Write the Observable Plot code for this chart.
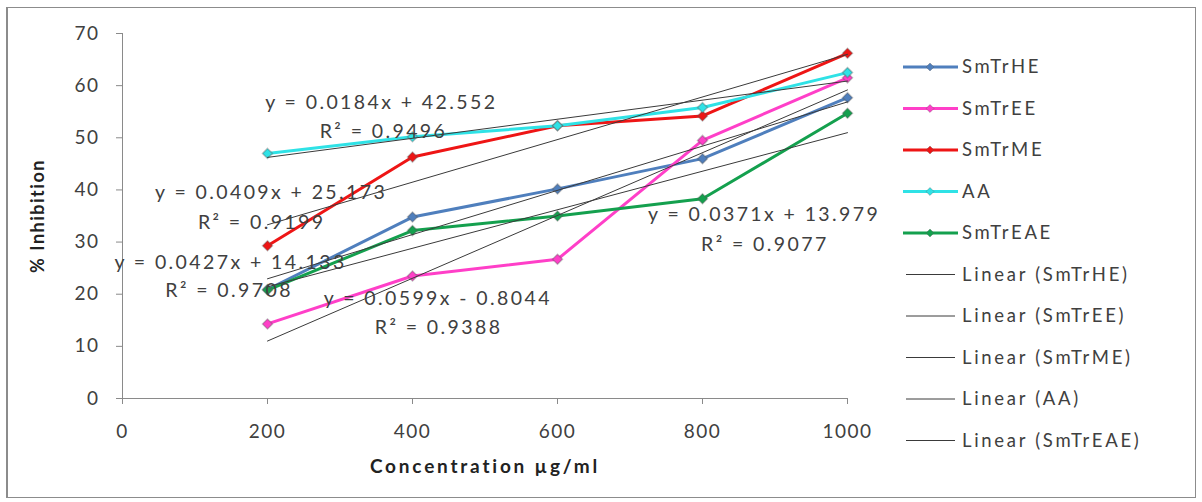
<!DOCTYPE html>
<html><head><meta charset="utf-8">
<script src="https://cdn.jsdelivr.net/npm/d3@7"></script>
<script src="https://cdn.jsdelivr.net/npm/@observablehq/plot@0.6"></script>
<style>
body{margin:0;background:#fff;}
#wrap{position:relative;width:1202px;height:502px;overflow:hidden;font-family:Lato, sans-serif;}
#frame{position:absolute;left:6px;top:7px;width:1190px;height:491px;border:1px solid #8c8c8c;border-left:2px solid #8c8c8c;box-sizing:border-box;}
#chart{position:absolute;left:0;top:0;}
#legend{position:absolute;left:0;top:0;}
</style></head><body>
<div id="wrap"><div id="frame"></div><div id="chart"></div><svg id="legend" width="1202" height="502"></svg></div>
<script>
const concentrations = [200, 400, 600, 800, 1000];
const seriesNames = ["SmTrHE", "SmTrEE", "SmTrME", "AA", "SmTrEAE"];
const smTrHE  = [20.9, 34.8, 40.2, 46.0, 57.7];
const smTrEE  = [14.3, 23.5, 26.7, 49.5, 61.5];
const smTrME  = [29.3, 46.3, 52.3, 54.2, 66.2];
const aa      = [47.0, 50.2, 52.3, 55.8, 62.5];
const smTrEAE = [20.8, 32.2, 35.0, 38.3, 54.7];
const seriesColors = ["#4f7fbd", "#ff3fc8", "#ee1515", "#2fe2e6", "#14a04e"];
const xTicks = [0, 200, 400, 600, 800, 1000];
const yTicks = [0, 10, 20, 30, 40, 50, 60, 70];
const trendLegend = ["Linear (SmTrHE)", "Linear (SmTrEE)", "Linear (SmTrME)", "Linear (AA)", "Linear (SmTrEAE)"];
const equationTexts = ["y = 0.0184x + 42.552", "y = 0.0409x + 25.173", "y = 0.0427x + 14.133", "y = 0.0599x - 0.8044", "y = 0.0371x + 13.979"];
const rSquaredTexts = ["R² = 0.9496", "R² = 0.9199", "R² = 0.9708", "R² = 0.9388", "R² = 0.9077"];
const xTitle = "Concentration µg/ml";
const yTitle = "% Inhibition";
// annotation anchors in data units (concentration, % inhibition)
const eqAnchorX = [357, 205, 149, 435, 885];
const eqAnchorY = [56.8, 39.5, 26.0, 19.1, 35.2];
const r2AnchorX = [360, 192, 147, 436, 886];
const r2AnchorY = [51.1, 33.8, 20.7, 13.6, 29.5];

const seriesValues = [smTrHE, smTrEE, smTrME, aa, smTrEAE];
const rows = seriesValues.flatMap((vals, i) => vals.map((v, j) => ({series: seriesNames[i], x: concentrations[j], y: v})));
const annotations = [
  ...equationTexts.map((t, i) => ({text: t, x: eqAnchorX[i], y: eqAnchorY[i]})),
  ...rSquaredTexts.map((t, i) => ({text: t, x: r2AnchorX[i], y: r2AnchorY[i]}))
];

const chart = Plot.plot({
  width: 1202, height: 502,
  marginLeft: 122, marginRight: 355, marginTop: 33, marginBottom: 104,
  x: {domain: [0, 1000]},
  y: {domain: [0, 70]},
  color: {domain: seriesNames, range: seriesColors},
  style: {fontFamily: "Lato, sans-serif", fontSize: "19px", color: "#404040", background: "transparent", letterSpacing: "1.5px"},
  marks: [
    Plot.ruleX([0], {stroke: "#8a8a8a", strokeWidth: 1}),
    Plot.ruleY([0], {stroke: "#8a8a8a", strokeWidth: 1}),
    Plot.axisX({ticks: xTicks, tickFormat: d => String(d), tickSize: 6, tickPadding: 20, label: null, stroke: "#8a8a8a", fill: "#404040"}),
    Plot.axisY({ticks: yTicks, tickFormat: d => String(d), tickSize: 6, tickPadding: 17, label: null, stroke: "#8a8a8a", fill: "#404040"}),
    Plot.line(rows, {x: "x", y: "y", z: "series", stroke: "series", strokeWidth: 3}),
    Plot.dot(rows, {x: "x", y: "y", fill: "series", symbol: "diamond2", r: 4.5, stroke: "#555", strokeOpacity: 0.35}),
    Plot.linearRegressionY(rows, {x: "x", y: "y", z: "series", stroke: "#3a3a3a", strokeWidth: 1, ci: 0}),
    Plot.text(annotations, {x: "x", y: "y", text: "text", fill: "#404040", fontSize: 19.5, lineAnchor: "middle"}),
    Plot.text([yTitle], {frameAnchor: "left", rotate: -90, dx: -84, textAnchor: "middle", lineAnchor: "middle", fontWeight: "bold", fill: "#222", fontSize: 18}),
    Plot.text([xTitle], {frameAnchor: "bottom", dy: 68, textAnchor: "middle", lineAnchor: "middle", fontWeight: "bold", fill: "#222", fontSize: 19})
  ]
});
document.getElementById("chart").appendChild(chart);

// widen letter spacing of the annotation and title texts
d3.select(chart).selectAll("text").each(function() {
  const t = this.textContent;
  if (equationTexts.includes(t) || rSquaredTexts.includes(t)) this.style.letterSpacing = "2.4px";
  else if (t === xTitle) this.style.letterSpacing = "2.8px";
});

// legend
const lg = d3.select("#legend");
const legendItems = [
  ...seriesNames.map((n, i) => ({label: n, color: seriesColors[i], series: true})),
  ...trendLegend.map(n => ({label: n, color: "#3a3a3a", series: false}))
];
legendItems.forEach((d, i) => {
  const y = 67 + i * 41.5;
  if (d.series) {
    lg.append("line").attr("x1", 903).attr("x2", 958).attr("y1", y).attr("y2", y)
      .attr("stroke", d.color).attr("stroke-width", 3);
    lg.append("path").attr("d", d3.symbol(d3.symbolDiamond2, 40)()).attr("transform", `translate(930,${y})`)
      .attr("fill", d.color).attr("stroke", "#555").attr("stroke-opacity", 0.35);
  } else {
    lg.append("line").attr("x1", 906).attr("x2", 955).attr("y1", y).attr("y2", y)
      .attr("stroke", d.color).attr("stroke-width", 1);
  }
  lg.append("text").attr("x", 962).attr("y", y).attr("dy", "0.35em")
    .attr("font-family", "Lato, sans-serif").attr("font-size", 18.5).style("letter-spacing", "2.7px")
    .attr("fill", "#404040").text(d.label);
});
</script>
</body></html>
